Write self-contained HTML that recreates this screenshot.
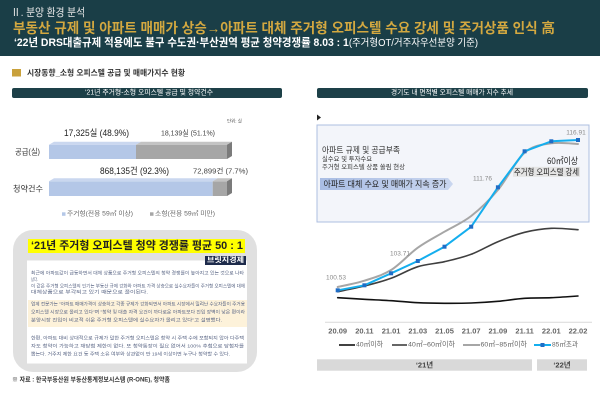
<!DOCTYPE html>
<html>
<head>
<meta charset="utf-8">
<style>
html,body{margin:0;padding:0;background:#fff;}
svg{display:block;}
text{font-family:"Liberation Sans","Noto Sans CJK KR",sans-serif;}
</style>
</head>
<body>
<svg width="600" height="415" viewBox="0 0 600 415" xmlns="http://www.w3.org/2000/svg">
<defs>
<linearGradient id="arr" x1="0" y1="0" x2="1" y2="0">
<stop offset="0" stop-color="#a9bde4"/>
<stop offset="1" stop-color="#c9d6ef"/>
</linearGradient>
</defs>
<rect x="0" y="0" width="600" height="415" fill="#ffffff"/>

<!-- Header -->
<rect x="0" y="0" width="600" height="56" fill="#1a3e47"/>
<text x="11" y="13" font-size="11" fill="#e8e8e8" dominant-baseline="central" textLength="74" lengthAdjust="spacingAndGlyphs">Ⅱ. 분양 환경 분석</text>
<text x="13" y="28" font-size="14" font-weight="bold" fill="#d3a840" dominant-baseline="central" textLength="542" lengthAdjust="spacingAndGlyphs">부동산 규제 및 아파트 매매가 상승→아파트 대체 주거형 오피스텔 수요 강세 및 주거상품 인식 高</text>
<text x="14" y="43" font-size="11" font-weight="bold" fill="#ffffff" dominant-baseline="central" textLength="464" lengthAdjust="spacingAndGlyphs">‘22년 DRS대출규제 적용에도 불구 수도권·부산권역 평균 청약경쟁률 8.03 : 1<tspan font-size="10" font-weight="normal">(주거형OT/거주자우선분양 기준)</tspan></text>

<!-- Section title -->
<rect x="12" y="69" width="9" height="7.5" fill="#c9a13b"/>
<text x="27" y="73" font-size="8" font-weight="bold" fill="#333" dominant-baseline="central" textLength="158" lengthAdjust="spacingAndGlyphs">시장동향_소형 오피스텔 공급 및 매매가지수 현황</text>

<!-- Sub title bars -->
<rect x="12" y="88" width="270" height="10" rx="2" fill="#1d4048"/>
<text x="149" y="93" font-size="7" fill="#fff" text-anchor="middle" dominant-baseline="central" textLength="128" lengthAdjust="spacingAndGlyphs">‘21년 주거형-소형 오피스텔 공급 및 청약건수</text>
<rect x="317" y="88" width="271" height="10" rx="2" fill="#1d4048"/>
<text x="452" y="93" font-size="7" fill="#fff" text-anchor="middle" dominant-baseline="central" textLength="122" lengthAdjust="spacingAndGlyphs">경기도 내 면적별 오피스텔 매매가 지수 추세</text>

<!-- Left bar chart -->
<text x="227" y="121" font-size="4.5" fill="#555" dominant-baseline="central">단위: 실</text>
<text x="64" y="133" font-size="9" fill="#222" dominant-baseline="central" textLength="65" lengthAdjust="spacingAndGlyphs">17,325실 (48.9%)</text>
<text x="161" y="133" font-size="7.5" fill="#444" dominant-baseline="central" textLength="54" lengthAdjust="spacingAndGlyphs">18,139실 (51.1%)</text>

<text x="15" y="152" font-size="8" fill="#333" dominant-baseline="central" textLength="25" lengthAdjust="spacingAndGlyphs">공급(실)</text>
<rect x="49" y="144.7" width="87" height="14.3" fill="#b4c7e7"/>
<rect x="136" y="144.7" width="91" height="14.3" fill="#a6a6a6"/>
<polygon points="49,144.7 54,141.7 141,141.7 136,144.7" fill="#cad7ef"/>
<polygon points="136,144.7 141,141.7 232,141.7 227,144.7" fill="#c3c3c3"/>
<polygon points="227,144.7 232,141.7 232,156 227,159" fill="#7b7b7b"/>

<text x="100" y="171" font-size="9" fill="#222" dominant-baseline="central" textLength="69" lengthAdjust="spacingAndGlyphs">868,135건 (92.3%)</text>
<text x="193" y="171" font-size="7.5" fill="#444" dominant-baseline="central" textLength="55" lengthAdjust="spacingAndGlyphs">72,899건 (7.7%)</text>

<text x="13" y="189" font-size="8" fill="#333" dominant-baseline="central" textLength="30" lengthAdjust="spacingAndGlyphs">청약건수</text>
<rect x="49" y="181.3" width="163.7" height="14.7" fill="#b4c7e7"/>
<rect x="212.7" y="181.3" width="14.3" height="14.7" fill="#a6a6a6"/>
<polygon points="49,181.3 54,178.3 217.7,178.3 212.7,181.3" fill="#cad7ef"/>
<polygon points="212.7,181.3 217.7,178.3 232,178.3 227,181.3" fill="#c3c3c3"/>
<polygon points="227,181.3 232,178.3 232,193 227,196" fill="#7b7b7b"/>

<rect x="62" y="212.3" width="3.5" height="3.5" fill="#b4c7e7"/>
<text x="67" y="214" font-size="6.3" fill="#666" dominant-baseline="central" textLength="66" lengthAdjust="spacingAndGlyphs">주거형(전용 59㎡ 이상)</text>
<rect x="150" y="212.3" width="3.5" height="3.5" fill="#a6a6a6"/>
<text x="155" y="214" font-size="6.3" fill="#666" dominant-baseline="central" textLength="60" lengthAdjust="spacingAndGlyphs">소형(전용 59㎡ 미만)</text>

<!-- Gray rounded box with article -->
<rect x="13" y="230" width="244" height="142" rx="20" ry="20" fill="#e0e0e0"/>
<rect x="28" y="239" width="217" height="14" fill="#ffff00"/>
<text x="31" y="246" font-size="11" font-weight="bold" fill="#222" dominant-baseline="central" textLength="212" lengthAdjust="spacingAndGlyphs">‘21년 주거형 오피스텔 청약 경쟁률 평균 50 : 1</text>
<rect x="27" y="260.5" width="220" height="103" fill="#ffffff"/>
<rect x="205" y="256" width="41" height="9" fill="#1e2b4b"/>
<text x="225.5" y="260.5" font-size="7" font-weight="bold" fill="#fff" text-anchor="middle" dominant-baseline="central" textLength="37" lengthAdjust="spacingAndGlyphs">브릿지경제</text>
<rect x="28" y="300" width="219" height="27" fill="#fdf2da"/>
<g font-size="4.8" fill="#5b6786">
<text x="31" y="274" dominant-baseline="central" textLength="213" lengthAdjust="spacingAndGlyphs">최근에 아파트값이 급등하면서 대체 상품으로 주거형 오피스텔의 청약 경쟁률이 높아지고 있는 것으로 나타</text>
<text x="31" y="280.5" dominant-baseline="central" textLength="7" lengthAdjust="spacingAndGlyphs">났다.</text>
<text x="31" y="287" dominant-baseline="central" textLength="214" lengthAdjust="spacingAndGlyphs">이 같은 주거형 오피스텔의 인기는 부동산 규제 강화와 아파트 가격 상승으로 실수요자들이 주거형 오피스텔에 대해</text>
<text x="31" y="293" dominant-baseline="central" textLength="117" lengthAdjust="spacingAndGlyphs">대체상품으로 부각되고 있기 때문으로 풀이된다.</text>
<text x="31" y="305" dominant-baseline="central" textLength="214" lengthAdjust="spacingAndGlyphs">업계 전문가는 "아파트 매매가격이 상승하고 각종 규제가 강화되면서 아파트 시장에서 밀려난 수요자들이 주거용</text>
<text x="31" y="313" dominant-baseline="central" textLength="214" lengthAdjust="spacingAndGlyphs">오피스텔 시장으로 몰리고 있다"며 "청약 및 대출 자격 요건이 까다로운 아파트보다 진입 장벽이 낮은 편이라</text>
<text x="31" y="321" dominant-baseline="central" textLength="191" lengthAdjust="spacingAndGlyphs">분양시장 진입이 비교적 쉬운 주거형 오피스텔에 실수요자가 몰리고 있다"고 설명했다.</text>
<text x="31" y="339" dominant-baseline="central" textLength="213" lengthAdjust="spacingAndGlyphs">한편, 아파트 대비 상대적으로 규제가 덜한 주거형 오피스텔은 청약 시 주택 수에 포함되지 않아 다주택</text>
<text x="31" y="347" dominant-baseline="central" textLength="213" lengthAdjust="spacingAndGlyphs">자도 청약이 가능하고 재당첨 제한이 없다. 또 청약통장이 필요 없어서 100% 추첨으로 당첨자를</text>
<text x="31" y="355" dominant-baseline="central" textLength="199" lengthAdjust="spacingAndGlyphs">뽑는다. 거주지 제한 요건 등 주택 소유 여부와 상관없이 만 19세 이상이면 누구나 청약할 수 있다.</text>
</g>

<text x="12" y="380" font-size="6.5" font-weight="bold" fill="#333" dominant-baseline="central" textLength="158" lengthAdjust="spacingAndGlyphs">※ 자료 : 한국부동산원 부동산통계정보시스템 (R-ONE), 청약홈</text>

<!-- Right line chart -->
<polygon points="317,114.5 321,117.5 317,120.5" fill="#222"/>
<rect x="317" y="125" width="272" height="97" fill="#f3f5fa" stroke="#aebfe0" stroke-width="1"/>
<line x1="325" y1="322.3" x2="592" y2="322.3" stroke="#d9d9d9" stroke-width="1"/>

<text x="322" y="150" font-size="8.8" fill="#333" dominant-baseline="central" textLength="78" lengthAdjust="spacingAndGlyphs">아파트 규제 및 공급부족</text>
<text x="322" y="159.3" font-size="6.5" fill="#333" dominant-baseline="central" textLength="50" lengthAdjust="spacingAndGlyphs">실수요 및 투자수요</text>
<text x="322" y="167.3" font-size="6.5" fill="#333" dominant-baseline="central" textLength="83" lengthAdjust="spacingAndGlyphs">주거형 오피스텔 상품 쏠림 현상</text>
<polygon points="320,178 448,178 453,184 448,190 320,190" fill="url(#arr)"/>
<text x="323.5" y="184" font-size="8.5" fill="#222" dominant-baseline="central" textLength="123" lengthAdjust="spacingAndGlyphs">아파트 대체 수요 및 매매가 지속 증가</text>

<rect x="513" y="166.8" width="67" height="10" fill="#e4e4e4"/>
<text x="578" y="161" font-size="9" fill="#222" text-anchor="end" dominant-baseline="central" textLength="31" lengthAdjust="spacingAndGlyphs">60㎡이상</text>
<text x="579" y="171.8" font-size="8.5" fill="#222" text-anchor="end" dominant-baseline="central" textLength="65" lengthAdjust="spacingAndGlyphs">주거형 오피스텔 강세</text>

<!-- series -->
<g fill="none" stroke-linejoin="round" stroke-linecap="round">
<path stroke="#111111" stroke-width="1.6" d="M337.7,297.7 C342.15,297.97 355.5,298.8 364.4,299.3 C373.3,299.8 382.2,300.13 391.1,300.7 C400,301.27 408.9,302.27 417.8,302.7 C426.7,303.13 435.6,303.25 444.5,303.3 C453.4,303.35 462.3,303.33 471.2,303 C480.1,302.67 489,302.08 497.9,301.3 C506.8,300.52 515.7,298.9 524.6,298.3 C533.5,297.7 542.4,298.08 551.3,297.7 C560.2,297.32 573.55,296.28 578,296"/>
<path stroke="#3f3f3f" stroke-width="1.6" d="M337.7,291.7 C342.15,290.75 355.5,288.23 364.4,286 C373.3,283.77 382.2,281.52 391.1,278.3 C400,275.08 408.9,269.47 417.8,266.7 C426.7,263.93 435.6,263.77 444.5,261.7 C453.4,259.63 462.3,257.63 471.2,254.3 C480.1,250.97 489,245.37 497.9,241.7 C506.8,238.03 515.7,234.53 524.6,232.3 C533.5,230.07 542.4,228.73 551.3,228.3 C560.2,227.87 573.55,229.47 578,229.7"/>
<path stroke="#a6a6a6" stroke-width="2" d="M337.7,287 C342.15,285.95 355.5,283.53 364.4,280.7 C373.3,277.87 382.2,275.5 391.1,270 C400,264.5 408.9,254.08 417.8,247.7 C426.7,241.32 435.6,236.98 444.5,231.7 C453.4,226.42 462.3,222.95 471.2,216 C480.1,209.05 489,200.55 497.9,190 C506.8,179.45 515.7,160.48 524.6,152.7 C533.5,144.92 542.4,144.75 551.3,143.3 C560.2,141.85 573.55,143.88 578,144"/>
<polyline stroke="#14aeee" stroke-width="2" points="337.7,290.3 364.4,285.3 391.1,273.3 417.8,261 444.5,246.7 471.2,226.7 497.9,187.3 524.6,151.3 551.3,141.3 578,140"/>
</g>
<g fill="#1f6dc6">
<rect x="335.7" y="288.3" width="4" height="4"/>
<rect x="362.4" y="283.3" width="4" height="4"/>
<rect x="389.1" y="271.3" width="4" height="4"/>
<rect x="415.8" y="259" width="4" height="4"/>
<rect x="442.5" y="244.7" width="4" height="4"/>
<rect x="469.2" y="224.7" width="4" height="4"/>
<rect x="495.9" y="185.3" width="4" height="4"/>
<rect x="522.6" y="149.3" width="4" height="4"/>
<rect x="549.3" y="139.3" width="4" height="4"/>
<rect x="576" y="138" width="4" height="4"/>
</g>

<g font-size="6.5" fill="#8a8a8a" text-anchor="middle">
<text x="576" y="133" dominant-baseline="central">116.91</text>
<text x="482.5" y="179" dominant-baseline="central">111.76</text>
<text x="400" y="254" dominant-baseline="central">103.71</text>
<text x="336" y="278" dominant-baseline="central">100.53</text>
</g>

<g font-size="7.5" font-weight="bold" fill="#666" text-anchor="middle">
<text x="337.7" y="331" dominant-baseline="central">20.09</text>
<text x="364.4" y="331" dominant-baseline="central">20.11</text>
<text x="391.1" y="331" dominant-baseline="central">21.01</text>
<text x="417.8" y="331" dominant-baseline="central">21.03</text>
<text x="444.5" y="331" dominant-baseline="central">21.05</text>
<text x="471.2" y="331" dominant-baseline="central">21.07</text>
<text x="497.9" y="331" dominant-baseline="central">21.09</text>
<text x="524.6" y="331" dominant-baseline="central">21.11</text>
<text x="551.3" y="331" dominant-baseline="central">22.01</text>
<text x="578" y="331" dominant-baseline="central">22.02</text>
</g>

<!-- legend -->
<line x1="339" y1="345" x2="355" y2="345" stroke="#111" stroke-width="1.6"/>
<text x="356" y="345" font-size="6.8" fill="#666" dominant-baseline="central" textLength="27" lengthAdjust="spacingAndGlyphs">40㎡이하</text>
<line x1="392" y1="345" x2="407" y2="345" stroke="#3f3f3f" stroke-width="1.6"/>
<text x="408" y="345" font-size="6.8" fill="#666" dominant-baseline="central" textLength="47" lengthAdjust="spacingAndGlyphs">40㎡~60㎡이하</text>
<line x1="463" y1="345" x2="480" y2="345" stroke="#a6a6a6" stroke-width="2"/>
<text x="480.5" y="345" font-size="6.8" fill="#666" dominant-baseline="central" textLength="46.5" lengthAdjust="spacingAndGlyphs">60㎡~85㎡이하</text>
<line x1="534" y1="345" x2="551" y2="345" stroke="#14aeee" stroke-width="2"/>
<rect x="540.5" y="343" width="4" height="4" fill="#1f6dc6"/>
<text x="552" y="345" font-size="6.8" fill="#666" dominant-baseline="central" textLength="26" lengthAdjust="spacingAndGlyphs">85㎡초과</text>

<!-- year bars -->
<rect x="317" y="359.3" width="215" height="11.4" fill="#d9d9d9"/>
<rect x="537" y="359.3" width="50" height="11.4" fill="#d9d9d9"/>
<text x="424.5" y="365" font-size="7.5" font-weight="bold" fill="#444" text-anchor="middle" dominant-baseline="central">‘21년</text>
<text x="562" y="365" font-size="7.5" font-weight="bold" fill="#444" text-anchor="middle" dominant-baseline="central">‘22년</text>
</svg>
</body>
</html>
